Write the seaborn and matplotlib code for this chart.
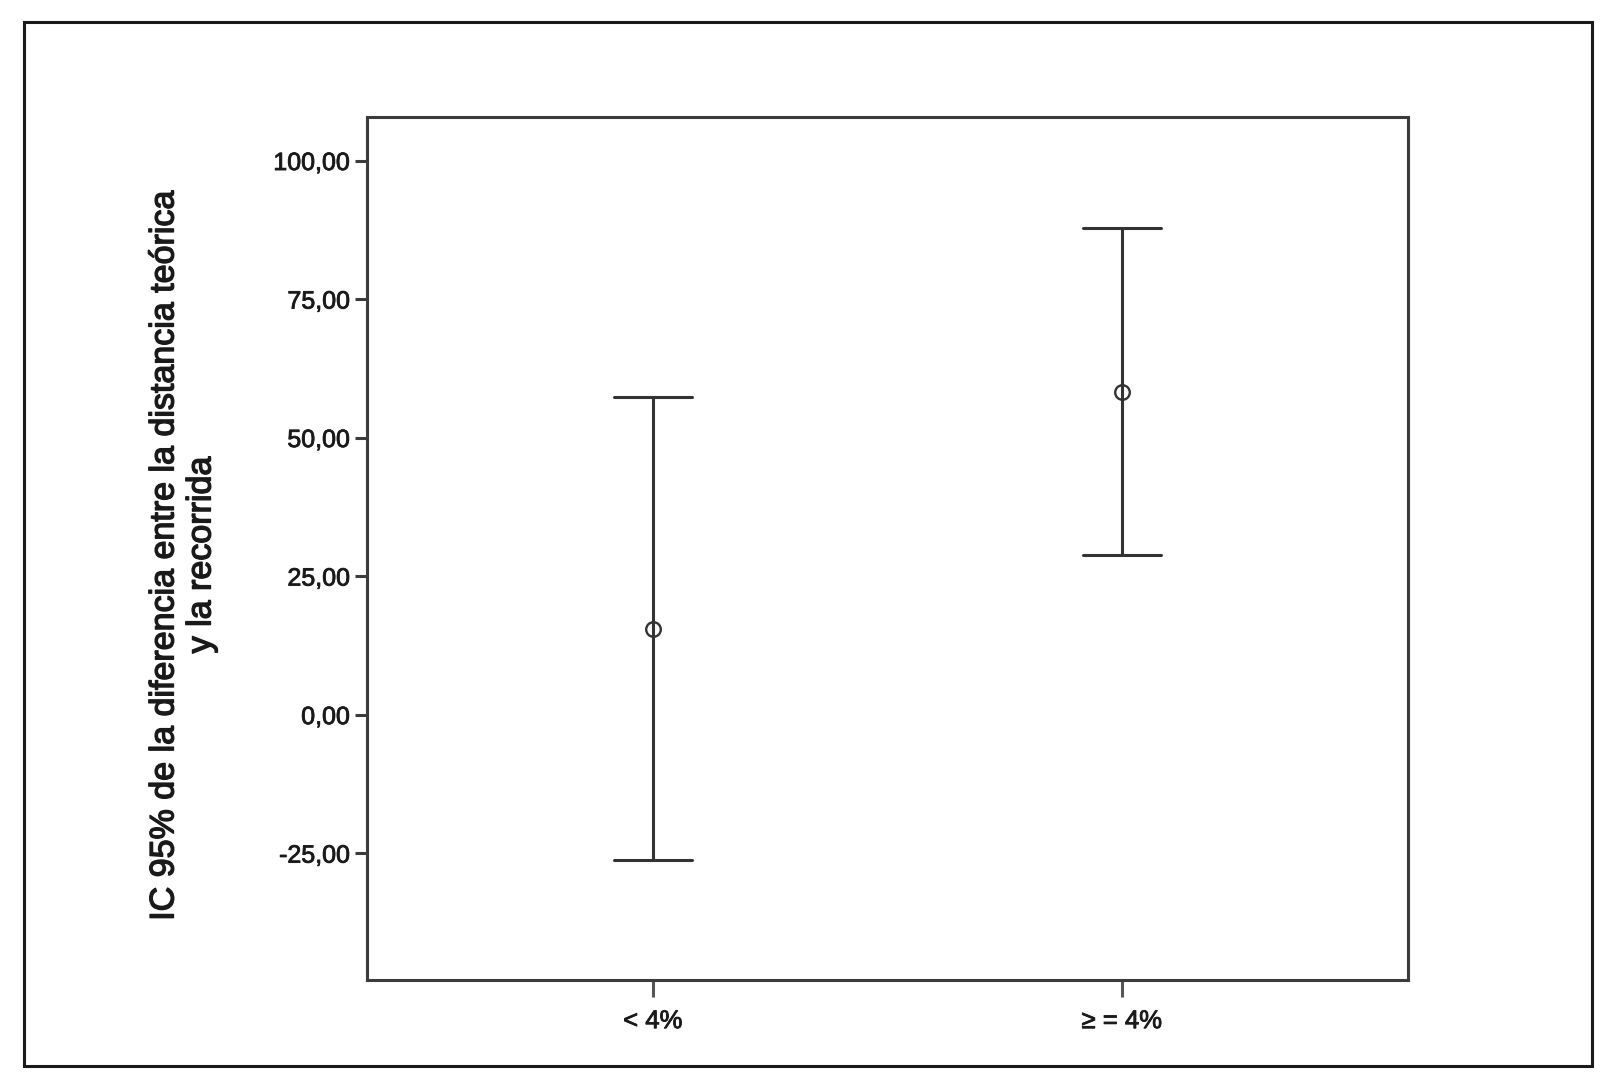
import matplotlib
matplotlib.use("Agg")
import matplotlib.pyplot as plt
import matplotlib.patheffects as pe
import numpy as np
import pandas as pd
import seaborn as sns
from matplotlib.patches import Rectangle
from matplotlib.ticker import FixedLocator, FuncFormatter

# group labels and 95% CI
grupos = ["< 4%", "\u2265 = 4%"]
ic_inferior = [-26.2, 28.8]
media = [15.5, 58.3]
ic_superior = [57.3, 87.9]

yticks = [-25, 0, 25, 50, 75, 100]

# three rows per group (low, mean, high): median -> mean, 100% interval -> CI
rows = []
for g, lo, m, hi in zip(grupos, ic_inferior, media, ic_superior):
    for v in (lo, m, hi):
        rows.append({"grupo": g, "valor": v})
data = pd.DataFrame(rows)

sns.set_style("white")
plt.rcParams["font.family"] = ["Liberation Sans", "DejaVu Sans"]

fig = plt.figure(figsize=(16.12, 10.83), dpi=100)
ax = fig.add_axes([0.2275, 0.0951, 0.6459, 0.7971])

sns.pointplot(data=data, x="grupo", y="valor", order=grupos,
              estimator="median", errorbar=("pi", 100),
              linestyle="none", marker="o", color="#333333",
              markerfacecolor="white", markeredgecolor="#333333",
              markersize=10.5, markeredgewidth=1.7,
              capsize=0.166, err_kws={"linewidth": 2.2}, ax=ax)

# thicker caps
for line in ax.lines:
    xd = np.asarray(line.get_xdata())
    if len(xd) == 2 and xd[0] != xd[1]:
        line.set_linewidth(3.2)

ax.set_xlim(-0.61, 1.61)
ax.set_ylim(-47.9, 107.9)
ax.yaxis.set_major_locator(FixedLocator(yticks))
ax.yaxis.set_major_formatter(FuncFormatter(lambda v, p: f"{v:.2f}".replace(".", ",")))

ax.set_xlabel("")
ax.set_ylabel("")
for s in ax.spines.values():
    s.set_visible(True)
    s.set_color("#3c3c3c")
    s.set_linewidth(2.2)

ax.tick_params(axis="y", length=9, width=2.2, color="#3c3c3c", pad=3,
               labelsize=18, labelcolor="#1a1a1a", left=True)
ax.tick_params(axis="x", length=12, width=2.2, color="#555555", pad=9,
               labelsize=18.5, labelcolor="#1a1a1a", bottom=True)

heavy = [pe.withStroke(linewidth=0.6, foreground="#1a1a1a")]
for t in ax.get_xticklabels() + ax.get_yticklabels():
    t.set_path_effects(heavy)

fig.text(0.1138, 0.4875,
         "IC 95% de la diferencia entre la distancia teórica\ny la recorrida",
         rotation=90, ha="center", va="center", multialignment="center",
         fontsize=24.5, linespacing=1.25, color="#1a1a1a",
         path_effects=[pe.withStroke(linewidth=1.0, foreground="#1a1a1a")])

# outer frame
fig.patches.append(Rectangle((0.0147, 0.0157), 0.9729, 0.964,
                             transform=fig.transFigure, fill=False,
                             edgecolor="#1a1a1a", linewidth=2.2))

fig.savefig("out.png", dpi=100, facecolor="white")
